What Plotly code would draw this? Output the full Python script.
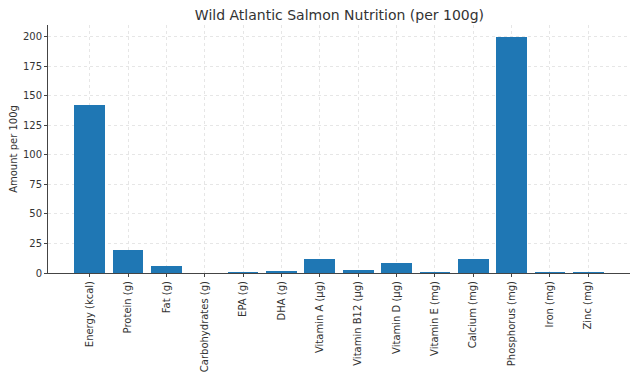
import plotly.graph_objects as go

categories = ["Energy (kcal)", "Protein (g)", "Fat (g)", "Carbohydrates (g)", "EPA (g)",
              "DHA (g)", "Vitamin A (µg)", "Vitamin B12 (µg)", "Vitamin D (µg)",
              "Vitamin E (mg)", "Calcium (mg)", "Phosphorus (mg)", "Iron (mg)", "Zinc (mg)"]
values = [142, 19.8, 6.3, 0, 0.3, 1.1, 11.5, 2.8, 8.6, 0.8, 11.5, 200, 0.8, 0.6]
y_ticks = [0, 25, 50, 75, 100, 125, 150, 175, 200]

x_idx = list(range(len(categories)))

fig = go.Figure(go.Bar(
    x=x_idx, y=values, width=0.8,
    marker=dict(color="#1f77b4", line=dict(width=0)),
))

# the page body adds an 8px offset; the figure is sized to fit inside the window
font = "DejaVu Sans, sans-serif"
fig.update_layout(
    width=632, height=376,
    margin=dict(l=40, r=10, t=17, b=111, autoexpand=False),
    paper_bgcolor="white", plot_bgcolor="white",
    font=dict(family=font, size=10, color="#222"),
    title=dict(text="Wild Atlantic Salmon Nutrition (per 100g)", x=0.5245, xanchor="center",
               y=0.981, yanchor="middle", font=dict(size=14, color="#333")),
    showlegend=False,
    bargap=0,
)
fig.update_xaxes(
    range=[-1.09, 14.09], tickmode="array", tickvals=x_idx, ticktext=categories,
    tickangle=-90, ticks="outside", ticklen=3, tickcolor="#444", automargin=False,
    showline=True, linecolor="#444", linewidth=1,
    showgrid=True, gridcolor="#e6e6e6", griddash="dot", gridwidth=1,
    zeroline=False, tickfont=dict(size=10, color="#333"),
)
fig.update_yaxes(
    range=[0, 210], tickmode="array", tickvals=y_ticks, automargin=False,
    ticks="outside", ticklen=3, tickcolor="#444",
    showline=True, linecolor="#444", linewidth=1,
    showgrid=True, gridcolor="#e6e6e6", griddash="dot", gridwidth=1,
    zeroline=False, tickfont=dict(size=10, color="#333"),
    title=dict(text="Amount per 100g", font=dict(size=10, color="#333"), standoff=8),
)

fig.write_html("out.html")
